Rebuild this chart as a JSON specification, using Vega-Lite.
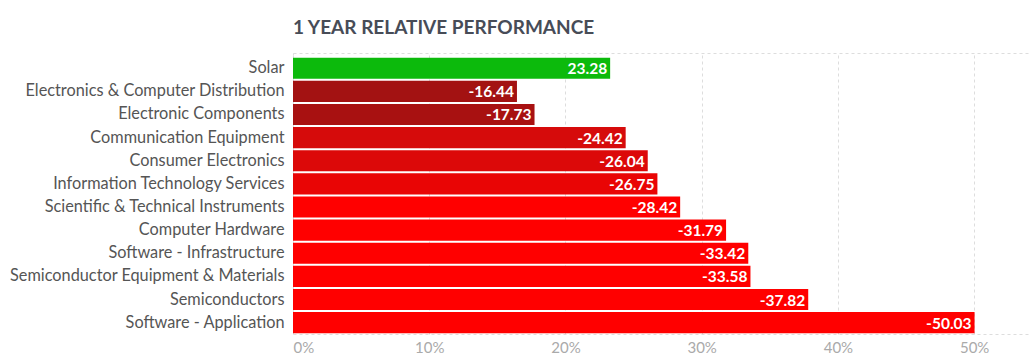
{
  "$schema": "https://vega.github.io/schema/vega-lite/v6.json",
  "autosize": "none",
  "padding": {"left": 293, "top": 53, "right": 0, "bottom": 28},
  "width": 737,
  "height": 281,
  "background": "#ffffff",
  "config": {
    "font": "Lato",
    "view": {"stroke": "#dddddd", "strokeDash": [3, 3], "strokeWidth": 1},
    "locale": {
      "number": {"decimal": ".", "thousands": ",", "grouping": [3], "currency": ["$", ""], "minus": "-"}
    }
  },
  "title": {
    "text": "1 YEAR RELATIVE PERFORMANCE",
    "anchor": "start",
    "frame": "group",
    "font": "Lato",
    "fontSize": 19,
    "fontWeight": "bold",
    "color": "#474c57",
    "offset": 15
  },
  "data": {
    "values": [
      {"industry": "Solar", "change": 23.28},
      {"industry": "Electronics & Computer Distribution", "change": -16.44},
      {"industry": "Electronic Components", "change": -17.73},
      {"industry": "Communication Equipment", "change": -24.42},
      {"industry": "Consumer Electronics", "change": -26.04},
      {"industry": "Information Technology Services", "change": -26.75},
      {"industry": "Scientific & Technical Instruments", "change": -28.42},
      {"industry": "Computer Hardware", "change": -31.79},
      {"industry": "Software - Infrastructure", "change": -33.42},
      {"industry": "Semiconductor Equipment & Materials", "change": -33.58},
      {"industry": "Semiconductors", "change": -37.82},
      {"industry": "Software - Application", "change": -50.03}
    ]
  },
  "transform": [{"calculate": "abs(datum.change)", "as": "magnitude"}],
  "encoding": {
    "y": {
      "field": "industry",
      "type": "nominal",
      "sort": null,
      "title": null,
      "scale": {"paddingInner": 0.09, "paddingOuter": 0.12, "align": 0.85},
      "axis": {
        "ticks": false,
        "domain": false,
        "labelFont": "Lato",
        "labelFontSize": 16.3,
        "labelColor": "#555555",
        "labelPadding": 9,
        "labelLimit": 400
      }
    },
    "x": {
      "field": "magnitude",
      "type": "quantitative",
      "title": null,
      "scale": {"domain": [0, 54.1], "nice": false, "zero": true},
      "axis": {
        "values": [0, 10, 20, 30, 40, 50],
        "labelExpr": "datum.value + '%'",
        "ticks": false,
        "domain": false,
        "grid": true,
        "gridColor": "#dddddd",
        "gridDash": [3, 3],
        "labelFont": "Lato",
        "labelFontSize": 15,
        "labelColor": "#aaaaaa",
        "labelPadding": 6
      }
    }
  },
  "layer": [
    {
      "mark": {"type": "bar"},
      "encoding": {
        "color": {
          "field": "industry",
          "type": "nominal",
          "legend": null,
          "scale": {
            "domain": ["Solar", "Electronics & Computer Distribution", "Electronic Components", "Communication Equipment", "Consumer Electronics", "Information Technology Services", "Scientific & Technical Instruments", "Computer Hardware", "Software - Infrastructure", "Semiconductor Equipment & Materials", "Semiconductors", "Software - Application"],
            "range": ["#0cba0c", "#a31212", "#a81111", "#d60b0b", "#dc0909", "#e90505", "#ff0000", "#ff0000", "#ff0000", "#ff0000", "#ff0000", "#ff0000"]
          }
        }
      }
    },
    {
      "mark": {"type": "text", "align": "right", "baseline": "middle", "dx": -3, "dy": 1, "font": "Lato", "fontSize": 15.5, "fontWeight": "bold", "color": "#ffffff"},
      "encoding": {
        "text": {"field": "change", "type": "quantitative", "format": ".2f"}
      }
    }
  ]
}
